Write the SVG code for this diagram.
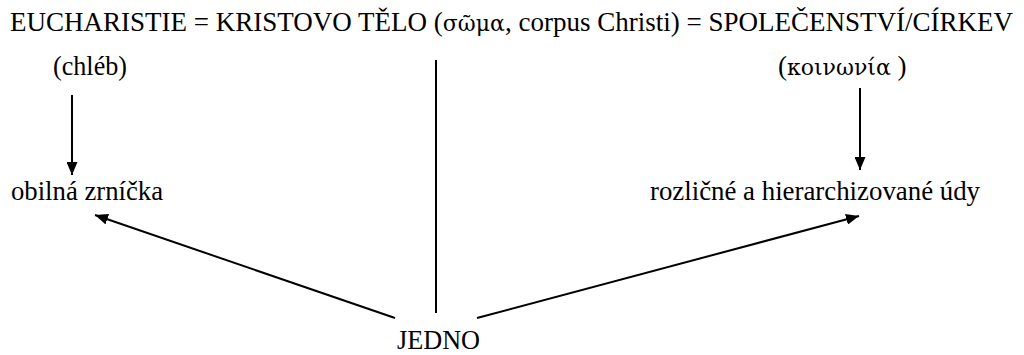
<svg xmlns="http://www.w3.org/2000/svg" width="1024" height="355" viewBox="0 0 1024 355">
<defs>
<style>
.t{font-family:'Liberation Serif','Times New Roman',serif;font-size:27px;fill:#000}
.g{font-family:'DejaVu Serif','Liberation Serif',serif;font-size:22px}
.c{stroke:#000;stroke-width:2;fill:none}
</style>
<marker id="ah" viewBox="0 0 13 11" refX="13" refY="5.5" markerWidth="13" markerHeight="11" markerUnits="userSpaceOnUse" orient="auto">
<path d="M0,0L13,5.5L0,11z" fill="#000"/>
</marker>
</defs>
<rect width="1024" height="355" fill="#fff"/>
<g id="title"><text class="t" x="10" y="31" textLength="1003" lengthAdjust="spacingAndGlyphs">EUCHARISTIE = KRISTOVO TĚLO (<tspan class="g">σῶμα</tspan>, corpus Christi) = SPOLEČENSTVÍ/CÍRKEV</text></g>
<g id="chleb"><text class="t" x="53" y="75" textLength="74" lengthAdjust="spacingAndGlyphs">(chléb)</text></g>
<g id="koinonia"><text class="t" x="778" y="75">(<tspan class="g">κοινωνία</tspan> )</text></g>
<g id="zrnicka"><text class="t" x="11" y="200" textLength="152" lengthAdjust="spacingAndGlyphs">obilná zrníčka</text></g>
<g id="udy"><text class="t" x="650" y="200" textLength="330" lengthAdjust="spacingAndGlyphs">rozličné a hierarchizované údy</text></g>
<g id="jedno"><text class="t" x="397" y="349" textLength="83" lengthAdjust="spacingAndGlyphs">JEDNO</text></g>
<g id="connectors" class="c">
<line x1="72" y1="95" x2="72" y2="175" marker-end="url(#ah)"/>
<line x1="436" y1="60" x2="436" y2="313"/>
<line x1="860" y1="88" x2="860" y2="170" marker-end="url(#ah)"/>
<line x1="395" y1="318" x2="95" y2="215" marker-end="url(#ah)"/>
<line x1="477" y1="318" x2="859" y2="216" marker-end="url(#ah)"/>
</g>
</svg>
